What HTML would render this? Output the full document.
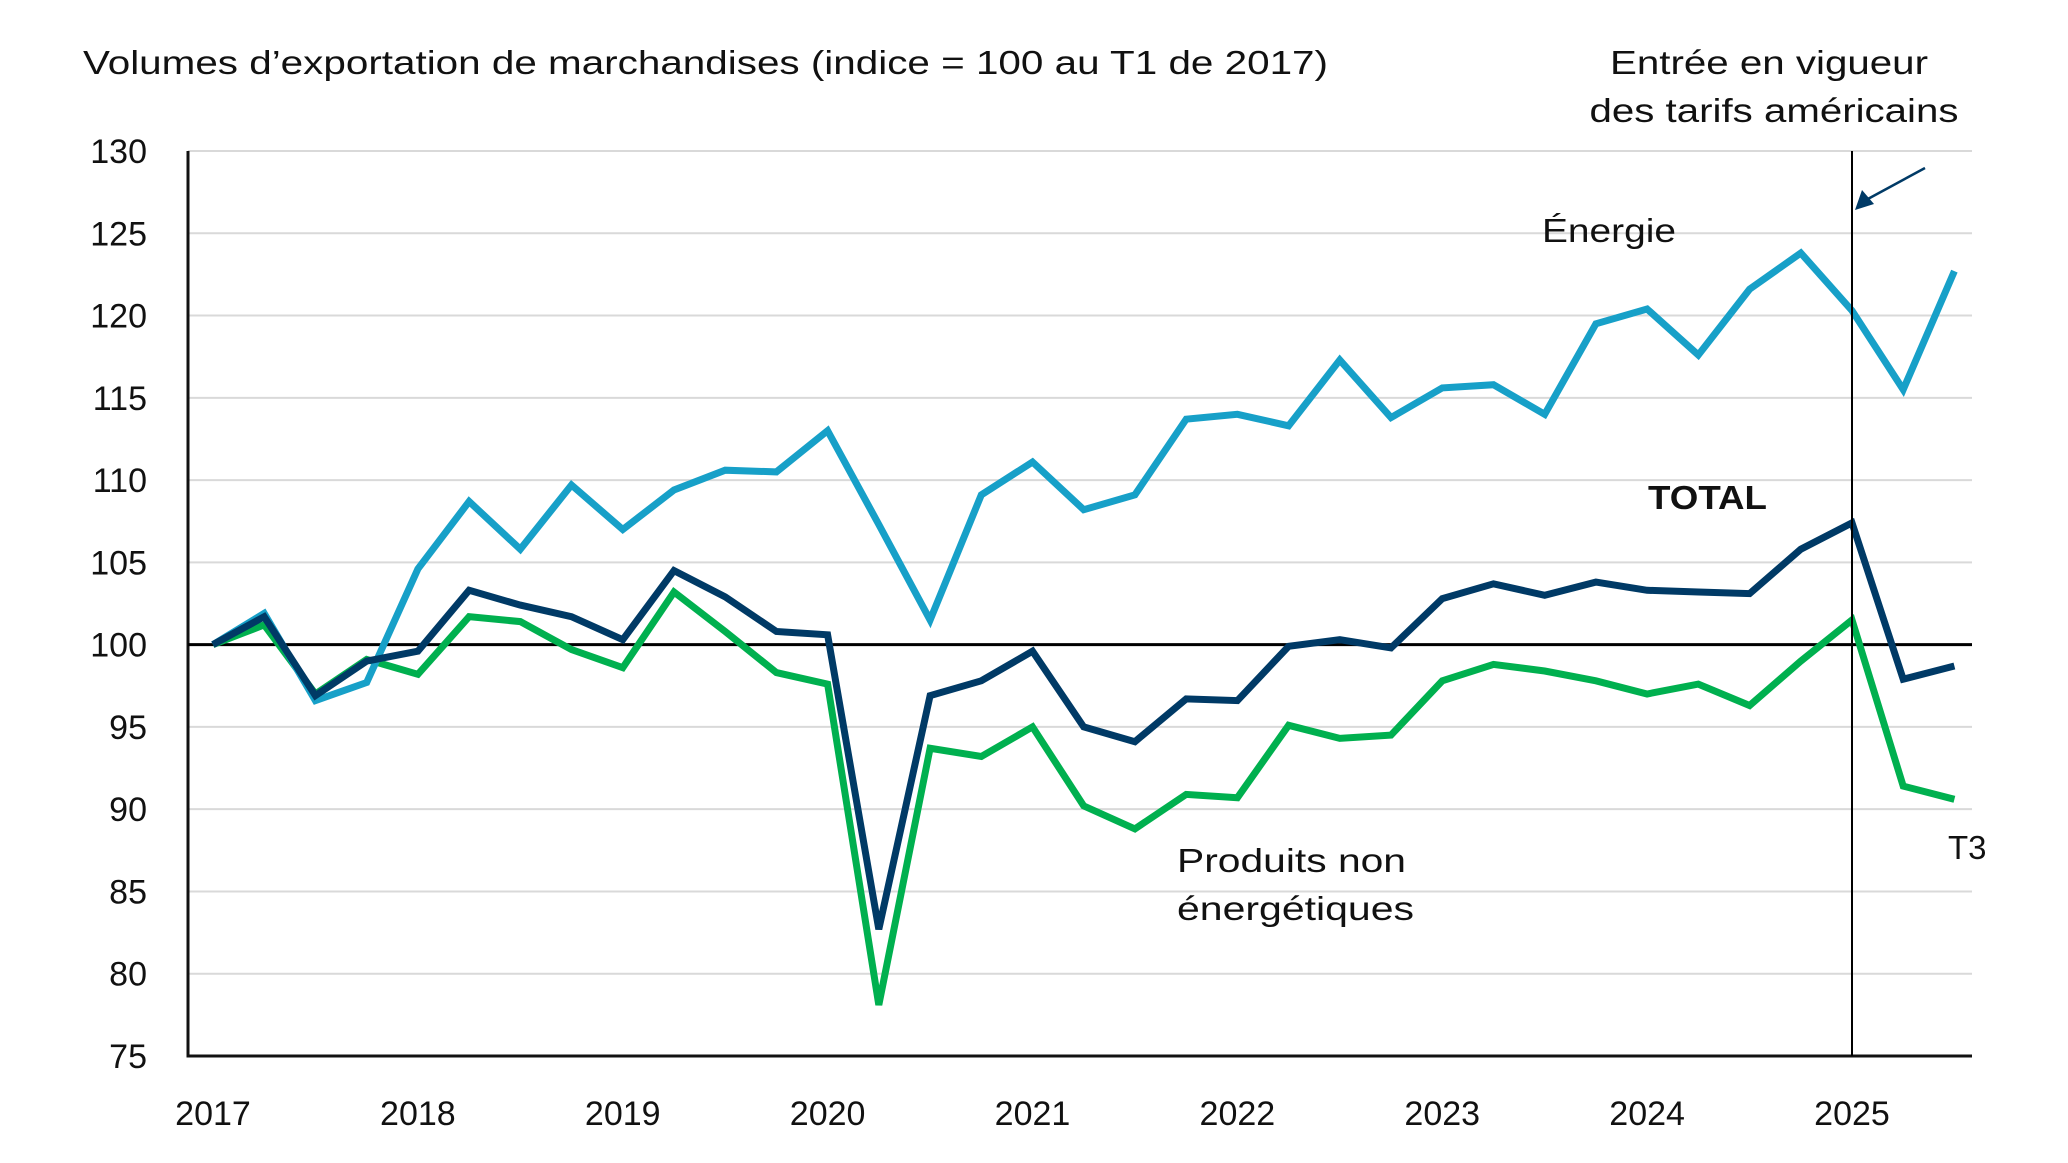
<!DOCTYPE html>
<html><head><meta charset="utf-8"><style>
html,body{margin:0;padding:0;background:#fff;}
svg{display:block;font-family:"Liberation Sans",sans-serif;}
</style></head><body>
<svg id="chart" width="2068" height="1163" viewBox="0 0 2068 1163" xmlns="http://www.w3.org/2000/svg">
<text x="83" y="74" font-size="33" fill="#111" textLength="1245" lengthAdjust="spacingAndGlyphs">Volumes d’exportation de marchandises (indice = 100 au T1 de 2017)</text>
<text x="1769" y="74" font-size="33" fill="#111" text-anchor="middle" textLength="318" lengthAdjust="spacingAndGlyphs">Entrée en vigueur</text>
<text x="1774" y="122" font-size="33" fill="#111" text-anchor="middle" textLength="369" lengthAdjust="spacingAndGlyphs">des tarifs américains</text>
<g id="grid"></g>
<g id="lines"></g>
<text x="1542" y="242" font-size="33" fill="#111" textLength="134" lengthAdjust="spacingAndGlyphs">Énergie</text>
<text x="1648" y="509" font-size="33" font-weight="bold" fill="#111" textLength="119" lengthAdjust="spacingAndGlyphs">TOTAL</text>
<text x="1177" y="872" font-size="33" fill="#111" textLength="229" lengthAdjust="spacingAndGlyphs">Produits non</text>
<text x="1177" y="920" font-size="33" fill="#111" textLength="237" lengthAdjust="spacingAndGlyphs">énergétiques</text>
<text x="1948" y="859" font-size="33" fill="#111">T3</text>
</svg>
<script>
const yTicks=[75,80,85,90,95,100,105,110,115,120,125,130];
const years=[2017,2018,2019,2020,2021,2022,2023,2024,2025];
const energy=[100,101.9,96.6,97.7,104.6,108.7,105.8,109.7,107.0,109.4,110.6,110.5,113.0,107.3,101.5,109.1,111.1,108.2,109.1,113.7,114.0,113.3,117.3,113.8,115.6,115.8,114.0,119.5,120.4,117.6,121.6,123.8,120.3,115.5,122.7];
const total=[100,101.7,96.9,99.0,99.6,103.3,102.4,101.7,100.3,104.5,102.9,100.8,100.6,82.7,96.9,97.8,99.6,95.0,94.1,96.7,96.6,99.9,100.3,99.8,102.8,103.7,103.0,103.8,103.3,103.2,103.1,105.8,107.4,97.9,98.7];
const nonEnergy=[100,101.2,97.0,99.1,98.2,101.7,101.4,99.7,98.6,103.2,100.8,98.3,97.6,78.1,93.7,93.2,95.0,90.2,88.8,90.9,90.7,95.1,94.3,94.5,97.8,98.8,98.4,97.8,97.0,97.6,96.3,99.0,101.5,91.4,90.6];
const NS="http://www.w3.org/2000/svg";
const X0=188,X1=1972,Y0=151,Y1=1056;
function y(v){return Y1-(v-75)/(130-75)*(Y1-Y0);}
function x(i){return 213+i*(1852-213)/32;}
function mk(tag,attrs,parent){const e=document.createElementNS(NS,tag);for(const k in attrs)e.setAttribute(k,attrs[k]);parent.appendChild(e);return e;}
const grid=document.getElementById('grid'),lines=document.getElementById('lines');
yTicks.forEach(v=>{
 if(v>75&&v!==100){const g=mk('line',{x1:X0,x2:X1,y1:y(v),y2:y(v),stroke:'#d9d9d9','stroke-width':2},grid);
 
 }
 const t=mk('text',{x:147,y:y(v)+12,'font-size':34,'text-anchor':'end',fill:'#111'},grid);
 t.textContent=v;
 
 
});
years.forEach((yr,k)=>{
 const t=mk('text',{x:x(k*4),y:1125,'font-size':34,'text-anchor':'middle',fill:'#111'},grid);
 t.textContent=yr;
 
 
});
const ax=mk('path',{d:`M${X0} ${Y0}V${Y1}H${X1}`,stroke:'#111','stroke-width':3,fill:'none'},grid);


function series(arr,color,name){
 const d=arr.map((v,i)=>(i?'L':'M')+x(i).toFixed(1)+' '+y(v).toFixed(1)).join('');
 const p=mk('path',{d:d,stroke:color,'stroke-width':7,fill:'none','stroke-linejoin':'miter','stroke-miterlimit':3},lines);
 
 
}
const base=mk('line',{x1:X0,x2:X1,y1:y(100),y2:y(100),stroke:'#000','stroke-width':3},lines);


series(nonEnergy,'#00b04f','non-energy-line');
series(energy,'#17a0c8','energy-line');
series(total,'#003a66','total-line');
const vl=mk('line',{x1:x(32),x2:x(32),y1:Y0,y2:Y1,stroke:'#000','stroke-width':2},lines);


const ar=mk('g',{},lines);


mk('line',{x1:1925,y1:168,x2:1866,y2:200,stroke:'#003a66','stroke-width':2.5},ar);
mk('polygon',{points:'1855,210 1862,190 1874,204',fill:'#003a66'},ar);
</script>
</body></html>
